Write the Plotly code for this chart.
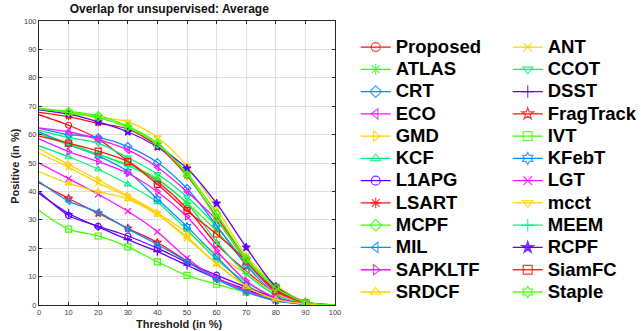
import plotly.graph_objects as go

# Success-plot thresholds (overlap, %)
thresholds = [0, 10, 20, 30, 40, 50, 60, 70, 80, 90, 100]

# Positive rate (%) per tracker at each threshold
proposed = [67.0, 63.3, 58.5, 50.7, 43.5, 34.0, 21.4, 12.0, 4.0, 0.8, 0]
atlas = [60.5, 57.0, 53.0, 49.5, 44.4, 36.0, 26.0, 14.5, 4.8, 0.8, 0]
crt = [62.2, 60.0, 59.0, 55.8, 50.2, 41.0, 28.0, 14.0, 4.0, 0.7, 0]
eco = [62.4, 61.0, 58.3, 54.6, 48.5, 39.9, 29.9, 15.5, 4.5, 0.8, 0]
gmd = [55.0, 49.5, 44.0, 38.5, 32.5, 25.5, 18.0, 10.9, 4.0, 0.7, 0]
kcf = [56.0, 52.2, 47.8, 42.5, 36.2, 26.5, 16.0, 8.0, 2.5, 0.5, 0]
l1apg = [40.0, 31.5, 27.7, 24.3, 20.0, 15.0, 10.5, 6.3, 2.5, 0.5, 0]
lsart = [67.8, 66.3, 64.0, 62.0, 56.0, 45.5, 31.1, 16.5, 5.5, 1.0, 0]
mcpf = [69.2, 68.2, 66.7, 63.0, 57.0, 46.5, 32.3, 16.5, 6.5, 1.0, 0]
mil = [43.5, 36.6, 32.7, 26.8, 21.3, 15.3, 9.0, 4.5, 1.5, 0.3, 0]
sapkltf = [58.5, 54.0, 50.5, 46.4, 39.9, 31.1, 19.1, 8.5, 2.5, 0.5, 0]
srdcf = [47.0, 42.8, 39.9, 37.3, 31.8, 24.0, 14.4, 6.5, 2.0, 0.4, 0]
ant = [53.5, 48.5, 43.0, 38.0, 32.0, 23.5, 14.5, 7.0, 2.5, 0.5, 0]
ccot = [61.5, 59.0, 57.0, 51.9, 46.1, 38.1, 27.6, 15.0, 5.0, 0.8, 0]
dsst = [39.3, 32.2, 27.5, 23.0, 18.8, 14.0, 9.3, 5.5, 2.0, 0.3, 0]
fragtrack = [43.0, 37.5, 32.3, 27.0, 22.0, 15.5, 9.5, 5.0, 2.0, 0.3, 0]
ivt = [33.3, 26.7, 24.3, 20.5, 15.2, 10.4, 7.3, 4.5, 2.0, 0.5, 0]
kfebt = [61.0, 56.5, 52.5, 47.0, 37.3, 27.6, 17.0, 7.0, 2.0, 0.5, 0]
lgt = [50.0, 44.5, 39.0, 33.0, 25.8, 16.5, 9.5, 5.0, 1.5, 0.3, 0]
mcct = [68.8, 67.5, 66.0, 64.6, 59.0, 49.0, 34.0, 17.5, 7.0, 1.2, 0]
meem = [60.2, 56.5, 53.0, 49.0, 44.0, 35.8, 22.3, 11.0, 3.5, 0.6, 0]
rcpf = [68.7, 67.2, 64.5, 61.0, 55.7, 48.1, 35.8, 20.3, 6.5, 1.0, 0]
siamfc = [59.5, 57.0, 54.2, 50.5, 42.5, 33.2, 25.0, 15.5, 5.0, 0.8, 0]
staple = [69.0, 67.8, 66.0, 62.5, 56.5, 46.0, 30.5, 16.0, 6.0, 1.0, 0]

RED = "#ff1010"
GREEN = "#40ff00"
BLUE = "#0a8cff"
MAGENTA = "#ff10ff"
YELLOW = "#ffd200"
SPRING = "#00f080"
VIOLET = "#6000ff"

# (name, values, colour, marker symbol) in two-column legend order
trackers = [
    ("Proposed", proposed, RED, "circle-open"),
    ("ANT", ant, YELLOW, "x-thin-open"),
    ("ATLAS", atlas, GREEN, "asterisk-open"),
    ("CCOT", ccot, SPRING, "triangle-down-open"),
    ("CRT", crt, BLUE, "diamond-open"),
    ("DSST", dsst, VIOLET, "cross-thin-open"),
    ("ECO", eco, MAGENTA, "triangle-left-open"),
    ("FragTrack", fragtrack, RED, "star-open"),
    ("GMD", gmd, YELLOW, "triangle-right-open"),
    ("IVT", ivt, GREEN, "square-open"),
    ("KCF", kcf, SPRING, "triangle-up-open"),
    ("KFebT", kfebt, BLUE, "hexagram-open"),
    ("L1APG", l1apg, VIOLET, "circle-open"),
    ("LGT", lgt, MAGENTA, "x-thin-open"),
    ("LSART", lsart, RED, "asterisk-open"),
    ("mcct", mcct, YELLOW, "triangle-down-open"),
    ("MCPF", mcpf, GREEN, "diamond-open"),
    ("MEEM", meem, SPRING, "cross-thin-open"),
    ("MIL", mil, BLUE, "triangle-left-open"),
    ("RCPF", rcpf, VIOLET, "star"),
    ("SAPKLTF", sapkltf, MAGENTA, "triangle-right-open"),
    ("SiamFC", siamfc, RED, "square-open"),
    ("SRDCF", srdcf, YELLOW, "triangle-up-open"),
    ("Staple", staple, GREEN, "hexagram-open"),
]

n = len(thresholds)
# markers only on the inner thresholds; hidden end points keep the legend glyph larger
sizes = [22] + [6] * (n - 2) + [22]
opac = [0] + [1] * (n - 2) + [0]

fig = go.Figure()
for name, vals, col, sym in trackers:
    fig.add_trace(go.Scatter(
        x=thresholds, y=vals, mode="lines+markers",
        name=f'<span style="font-size:18.5px">{name}</span>',
        line=dict(color=col, width=1.3, shape="spline", smoothing=0.8),
        marker=dict(symbol=sym, size=sizes, opacity=opac, color=col,
                    line=dict(color=col, width=1.2)),
    ))

axis_common = dict(
    showgrid=True, gridcolor="#dedede", gridwidth=1, zeroline=False,
    showline=True, linecolor="#262626", linewidth=1, mirror="ticks",
    ticks="inside", ticklen=3, tickcolor="#262626",
    tickfont=dict(family="Liberation Sans", size=7.5, color="#404040"),
    dtick=10,
)

fig.update_layout(
    width=641, height=331,
    margin=dict(l=39, r=306, t=21, b=26, autoexpand=False),
    paper_bgcolor="white", plot_bgcolor="white",
    title=dict(text="<b>Overlap for unsupervised: Average</b>",
               font=dict(family="Liberation Sans", size=12, color="#111"),
               xref="paper", x=0.44, xanchor="center",
               yref="container", y=0.972, yanchor="middle"),
    xaxis=dict(range=[0, 100], **axis_common),
    yaxis=dict(range=[0, 100], **axis_common),
    legend=dict(
        orientation="h", x=1.07, xanchor="left", y=0.965, yanchor="top",
        entrywidth=107, traceorder="normal", maxheight=1,
        font=dict(family="Liberation Sans", size=14.82, color="black", weight="bold"),
        bgcolor="rgba(0,0,0,0)", borderwidth=0,
    ),
    annotations=[
        dict(text="<b>Threshold (in %)</b>", xref="paper", yref="paper",
             x=0.476, y=0, xanchor="center", yanchor="middle", yshift=-18.5,
             showarrow=False, font=dict(family="Liberation Sans", size=11, color="#222")),
        dict(text="<b>Positive (in %)</b>", xref="paper", yref="paper",
             x=0, y=0.49, xanchor="center", yanchor="middle", xshift=-24,
             textangle=-90, showarrow=False,
             font=dict(family="Liberation Sans", size=11, color="#222")),
    ],
)

fig.write_html("out.html")
